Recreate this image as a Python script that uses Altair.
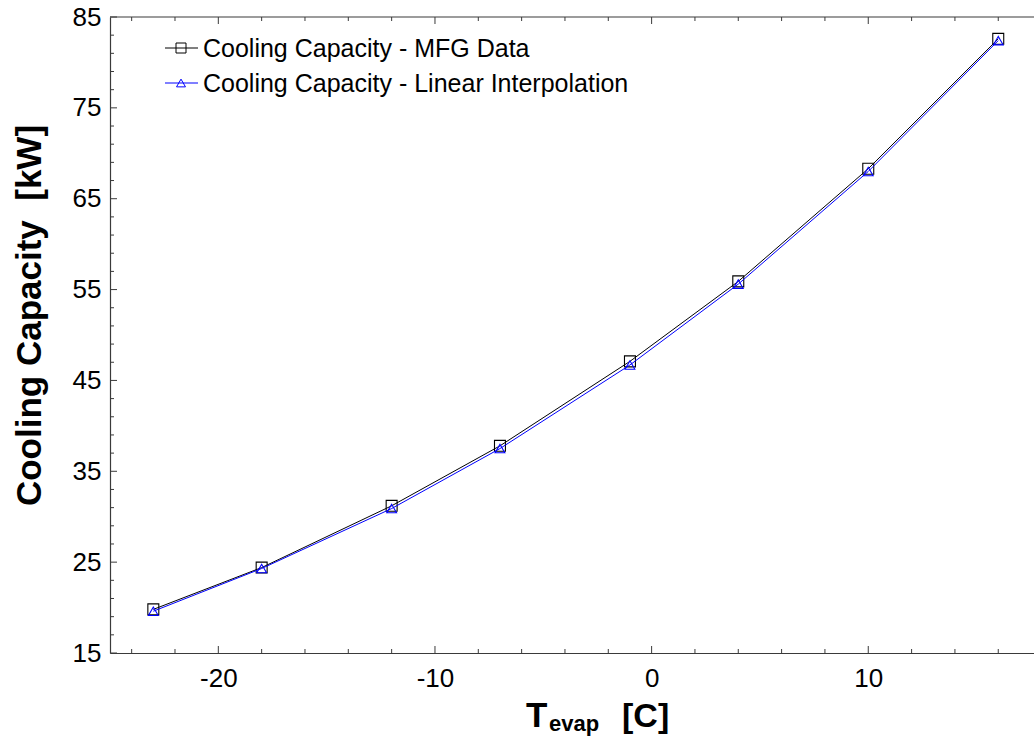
import altair as alt
import pandas as pd

# ---- data ----
t_evap = [-23, -18, -12, -7, -1, 4, 10, 16]
cap_mfg = [19.8, 24.4, 31.2, 37.8, 47.1, 55.9, 68.3, 82.6]
cap_lin = [19.6, 24.3, 30.9, 37.5, 46.7, 55.6, 68.0, 82.4]
series_names = ["Cooling Capacity - MFG Data", "Cooling Capacity - Linear Interpolation"]
series_colors = ["#000000", "#0000ff"]
series_shapes = ["square", "triangle-up"]

x_major = [-20, -10, 0, 10]
x_minor = [-24, -22, -18, -16, -14, -12, -8, -6, -4, -2, 2, 4, 6, 8, 12, 14, 16]
y_major = [15, 25, 35, 45, 55, 65, 75, 85]
y_minor = [17, 19, 21, 23, 27, 29, 31, 33, 37, 39, 41, 43, 47, 49, 51, 53,
           57, 59, 61, 63, 67, 69, 71, 73, 77, 79, 81, 83]

W, H = 924, 636
FONT = "Liberation Sans"
AXC = "#3a3a3a"

xs = alt.Scale(domain=[-25, 17.65], nice=False, zero=False)
ys = alt.Scale(domain=[15, 85], nice=False, zero=False)

df = pd.DataFrame({
    "t": t_evap * 2,
    "cap": cap_mfg + cap_lin,
    "series": [series_names[0]] * len(t_evap) + [series_names[1]] * len(t_evap),
})

xaxis = alt.Axis(values=x_major, labelExpr="'' + datum.value", labelFontSize=26,
                 labelFont=FONT, labelColor="black", labelPadding=12,
                 ticks=False, tickSize=0, domain=True, domainColor=AXC,
                 domainWidth=1.2, grid=False, title=None)
yaxis = alt.Axis(values=y_major, labelExpr="'' + datum.value", labelFontSize=26,
                 labelFont=FONT, labelColor="black", labelPadding=9,
                 ticks=False, tickSize=0, domain=True, domainColor=AXC,
                 domainWidth=1.2, grid=False,
                 title="Cooling Capacity\u00a0\u00a0[kW]", titleFont=FONT, titleFontSize=35,
                 titleFontWeight="bold", titleColor="black", titleAngle=270,
                 titleAlign="center", titleBaseline="alphabetic",
                 titleX=-70, titleY=298)

X = lambda f: alt.X(f, scale=xs, axis=xaxis)
Y = lambda f: alt.Y(f, scale=ys, axis=yaxis)

layers = []
for i, name in enumerate(series_names):
    d = df[df["series"] == name]
    base = alt.Chart(d)
    line = base.mark_line(color=series_colors[i], strokeWidth=1).encode(
        x=X("t:Q"), y=Y("cap:Q"))
    pts = base.mark_point(shape=series_shapes[i], color=series_colors[i],
                          filled=False, size=120 if i == 0 else 95,
                          strokeWidth=1.1, opacity=1).encode(
        x=X("t:Q"), y=Y("cap:Q"))
    layers += [line, pts]

# inward ticks drawn through the scales
def xticks(vals, top, length):
    d = pd.DataFrame({"t": vals})
    if top:
        yy, yy2 = 0, length
    else:
        yy, yy2 = H, H - length
    return alt.Chart(d).mark_rule(color=AXC, strokeWidth=1).encode(
        x=X("t:Q"), y=alt.value(yy), y2=alt.value(yy2))

def yticks(vals, length):
    d = pd.DataFrame({"cap": vals})
    return alt.Chart(d).mark_rule(color=AXC, strokeWidth=1).encode(
        y=Y("cap:Q"), x=alt.value(0), x2=alt.value(length))

layers += [xticks(x_major, False, 7), xticks(x_minor, False, 4),
           xticks(x_major, True, 7), xticks(x_minor, True, 4),
           yticks(y_major, 7), yticks(y_minor, 4)]

one = pd.DataFrame({"a": [0]})
# top frame line
layers.append(alt.Chart(one).mark_rule(color=AXC, strokeWidth=1.2).encode(
    x=alt.value(0), x2=alt.value(W), y=alt.value(0)))

# legend
leg_y = [31, 66]
for i, name in enumerate(series_names):
    layers.append(alt.Chart(one).mark_rule(color=series_colors[i], strokeWidth=1).encode(
        x=alt.value(55), x2=alt.value(88), y=alt.value(leg_y[i])))
    layers.append(alt.Chart(one).mark_point(shape=series_shapes[i], color=series_colors[i],
                                             filled=False, size=100 if i == 0 else 80,
                                             strokeWidth=1, opacity=1).encode(
        x=alt.value(71), y=alt.value(leg_y[i])))
    layers.append(alt.Chart(one).mark_text(align="left", baseline="middle", font=FONT,
                                            fontSize=25, color="black").encode(
        x=alt.value(93), y=alt.value(leg_y[i] + 1), text=alt.value(name)))

# x-axis title with subscript
layers.append(alt.Chart(one).mark_text(align="left", baseline="alphabetic", font=FONT,
                                        fontSize=35, fontWeight="bold", color="black").encode(
    x=alt.value(416), y=alt.value(710), text=alt.value("T")))
layers.append(alt.Chart(one).mark_text(align="left", baseline="alphabetic", font=FONT,
                                        fontSize=22, fontWeight="bold", color="black").encode(
    x=alt.value(439), y=alt.value(714), text=alt.value("evap")))
layers.append(alt.Chart(one).mark_text(align="left", baseline="alphabetic", font=FONT,
                                        fontSize=34, fontWeight="bold", color="black").encode(
    x=alt.value(512), y=alt.value(710), text=alt.value("[C]")))

chart = alt.layer(*layers).properties(
    width=W, height=H,
    background="white",
    autosize=alt.AutoSizeParams(type="none"),
    padding={"left": 110, "top": 17, "right": 0, "bottom": 84},
).configure_view(stroke=None)

chart.save("out.html", embed_options={"renderer": "svg", "actions": False})
